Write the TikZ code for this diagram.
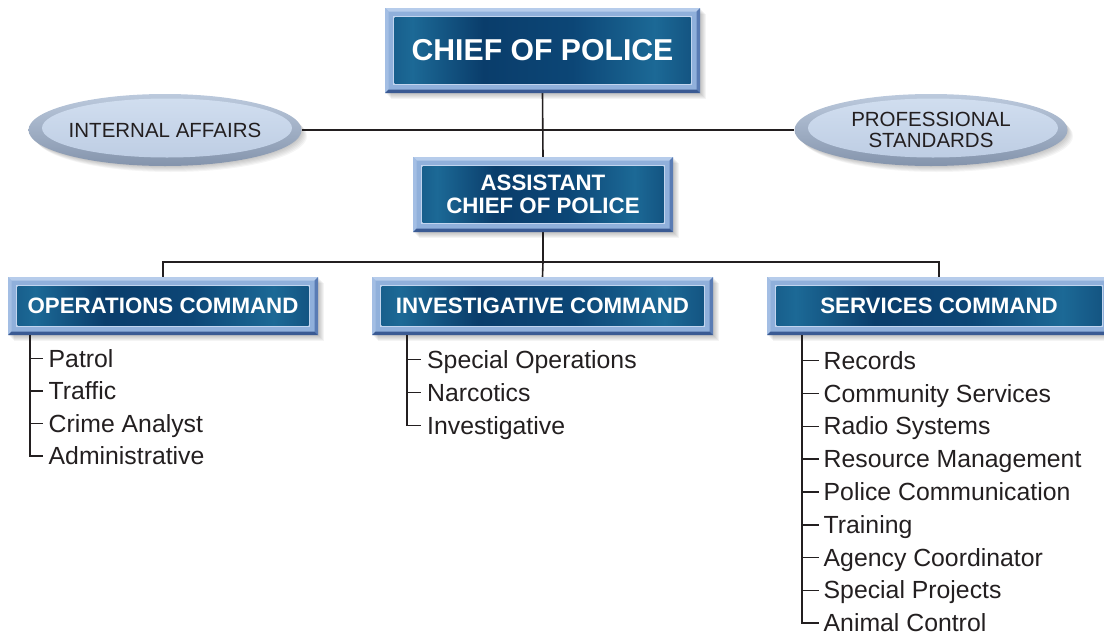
\documentclass[tikz,border=0pt]{standalone}
\usepackage{fontspec}
\setmainfont{Liberation Sans}
\usetikzlibrary{shapes.geometric,calc}
\pgfdeclarelayer{background}
\pgfsetlayers{background,main}
\definecolor{dkb}{HTML}{0A3D6B}
\definecolor{midb}{HTML}{0C4676}
\definecolor{ltb}{HTML}{1C6996}
\definecolor{frameC}{HTML}{90B0DB}
\definecolor{bevT}{HTML}{B6CCEB}
\definecolor{bevL}{HTML}{A3BEE4}
\definecolor{bevR}{HTML}{5A7CB4}
\definecolor{bevB}{HTML}{3A5A93}
\definecolor{inLine}{HTML}{C2D5EF}
\definecolor{rimT}{HTML}{BCCADD}
\definecolor{rimB}{HTML}{8494AC}
\definecolor{inT}{HTML}{D2DFF0}
\definecolor{inB}{HTML}{BBCBE2}
\definecolor{txt}{HTML}{231F20}
\pgfdeclarehorizontalshading{boxsh}{100bp}{color(0bp)=(dkb); color(14bp)=(dkb); color(28bp)=(ltb); color(40bp)=(dkb); color(55bp)=(midb); color(69bp)=(ltb); color(82bp)=(dkb); color(100bp)=(dkb)}
\newcommand\rshadow[1]{\foreach \k in {1,...,6}{\fill[black,opacity=0.045] ([xshift=\k pt,yshift=-\k pt]#1.north west) rectangle ([xshift=\k pt,yshift=-\k pt]#1.south east);}}
\newcommand\eshadow[1]{\foreach \k in {1,...,6}{\fill[black,opacity=0.04] ([xshift=\k pt,yshift=-\k pt]#1.center) ellipse [x radius=136pt, y radius=36pt];}}
\tikzset{
  bevelbox/.style={rectangle, inner sep=0pt, fill=frameC, text=white, align=center,
    font=\bfseries\fontsize{22.3}{23}\selectfont,
    path picture={
      \path (path picture bounding box.north west) coordinate (ppnw)
            (path picture bounding box.north east) coordinate (ppne)
            (path picture bounding box.south west) coordinate (ppsw)
            (path picture bounding box.south east) coordinate (ppse);
      \fill[bevT] (ppnw) -- (ppne) -- ([xshift=-3.5pt,yshift=-3.5pt]ppne) -- ([xshift=3.5pt,yshift=-3.5pt]ppnw) -- cycle;
      \fill[bevL] (ppnw) -- (ppsw) -- ([xshift=3.5pt,yshift=3.5pt]ppsw) -- ([xshift=3.5pt,yshift=-3.5pt]ppnw) -- cycle;
      \fill[bevR] (ppne) -- (ppse) -- ([xshift=-3.5pt,yshift=3.5pt]ppse) -- ([xshift=-3.5pt,yshift=-3.5pt]ppne) -- cycle;
      \fill[bevB] (ppsw) -- (ppse) -- ([xshift=-3.5pt,yshift=3.5pt]ppse) -- ([xshift=3.5pt,yshift=3.5pt]ppsw) -- cycle;
      \fill[inLine] ([xshift=8pt,yshift=-8pt]ppnw) rectangle ([xshift=-8pt,yshift=8pt]ppse);
      \shade[shading=boxsh] ([xshift=9.5pt,yshift=-9.5pt]ppnw) rectangle ([xshift=-9.5pt,yshift=9.5pt]ppse);
    }},
  ellnode/.style={ellipse, inner sep=0pt, minimum width=273pt, minimum height=72pt,
    top color=rimT, bottom color=rimB, text=txt, align=center,
    font=\fontsize{20.5}{21.5}\selectfont,
    path picture={
      \shade[top color=inT, bottom color=inB] ([xshift=2pt,yshift=2pt]path picture bounding box.center) ellipse [x radius=125pt, y radius=29.5pt];
    }},
  conn/.style={line width=1.6pt, draw=txt},
  item/.style={anchor=base west, inner sep=0pt, text=txt, font=\fontsize{24.8}{26}\selectfont},
}
\begin{document}
\begin{tikzpicture}[x=1pt,y=-1pt]
\useasboundingbox (0,0) rectangle (1104,635);

% main boxes
\node[bevelbox, minimum width=315pt, minimum height=85pt, font=\bfseries\fontsize{30.2}{32}\selectfont] (chief) at (542.5,50.5) {CHIEF OF POLICE};
\node[bevelbox, minimum width=260pt, minimum height=75pt] (asst) at (543,194.5) {ASSISTANT\\CHIEF OF POLICE};
\node[bevelbox, minimum width=310pt, minimum height=58pt] (ops) at (163,306) {OPERATIONS COMMAND};
\node[bevelbox, minimum width=341pt, minimum height=58pt] (inv) at (542.5,306) {INVESTIGATIVE COMMAND};
\node[bevelbox, minimum width=344pt, minimum height=58pt] (svc) at (939,306) {SERVICES COMMAND};

% ellipses
\node[ellnode] (ia) at (165,130) {INTERNAL AFFAIRS};
\node[ellnode] (ps) at (931,130) {PROFESSIONAL\\STANDARDS};

\begin{pgfonlayer}{background}
  \rshadow{chief}\rshadow{asst}\rshadow{ops}\rshadow{inv}\rshadow{svc}
  \eshadow{ia}\eshadow{ps}
  % connectors
  \draw[conn] (ia.east) -- (ps.west);
  \draw[conn] (chief.south) -- (asst.north);
  \coordinate (hub) at (543,262);
  \draw[conn] (asst.south) -- (hub);
  \draw[conn] (hub) -| (ops.north);
  \draw[conn] (hub) -- (inv.north);
  \draw[conn] (hub) -| (svc.north);
\end{pgfonlayer}

% operations items
\node[item] (o1) at (48.5,367) {Patrol};
\node[item] (o2) at (48.5,399.5) {Traffic};
\node[item] (o3) at (48.5,432) {Crime Analyst};
\node[item] (o4) at (48.5,464.5) {Administrative};
\coordinate (obx) at (30,0);
\draw[conn] (ops.south -| obx) |- ([xshift=-6pt,yshift=8.5pt]o4.base west);
\foreach \n in {o1,o2,o3}{\draw[conn] ([xshift=-19pt,yshift=8.5pt]\n.base west) -- ([xshift=-6pt,yshift=8.5pt]\n.base west);}

% investigative items
\node[item] (i1) at (427,368) {Special Operations};
\node[item] (i2) at (427,401) {Narcotics};
\node[item] (i3) at (427,434) {Investigative};
\coordinate (ibx) at (407,0);
\draw[conn] (inv.south -| ibx) |- ([xshift=-6pt,yshift=8.5pt]i3.base west);
\foreach \n in {i1,i2}{\draw[conn] ([xshift=-20pt,yshift=8.5pt]\n.base west) -- ([xshift=-6pt,yshift=8.5pt]\n.base west);}

% services items
\node[item] (s1) at (823.5,369) {Records};
\node[item] (s2) at (823.5,402) {Community Services};
\node[item] (s3) at (823.5,434.8) {Radio Systems};
\node[item] (s4) at (823.5,467.6) {Resource Management};
\node[item] (s5) at (823.5,500.4) {Police Communication};
\node[item] (s6) at (823.5,533.2) {Training};
\node[item] (s7) at (823.5,566) {Agency Coordinator};
\node[item] (s8) at (823.5,598.8) {Special Projects};
\node[item] (s9) at (823.5,631.6) {Animal Control};
\coordinate (sbx) at (802,0);
\draw[conn] (svc.south -| sbx) |- ([xshift=-5pt,yshift=8.5pt]s9.base west);
\foreach \n in {s1,s2,s3,s4,s5,s6,s7,s8}{\draw[conn] ([xshift=-21.5pt,yshift=8.5pt]\n.base west) -- ([xshift=-5pt,yshift=8.5pt]\n.base west);}
\end{tikzpicture}
\end{document}
